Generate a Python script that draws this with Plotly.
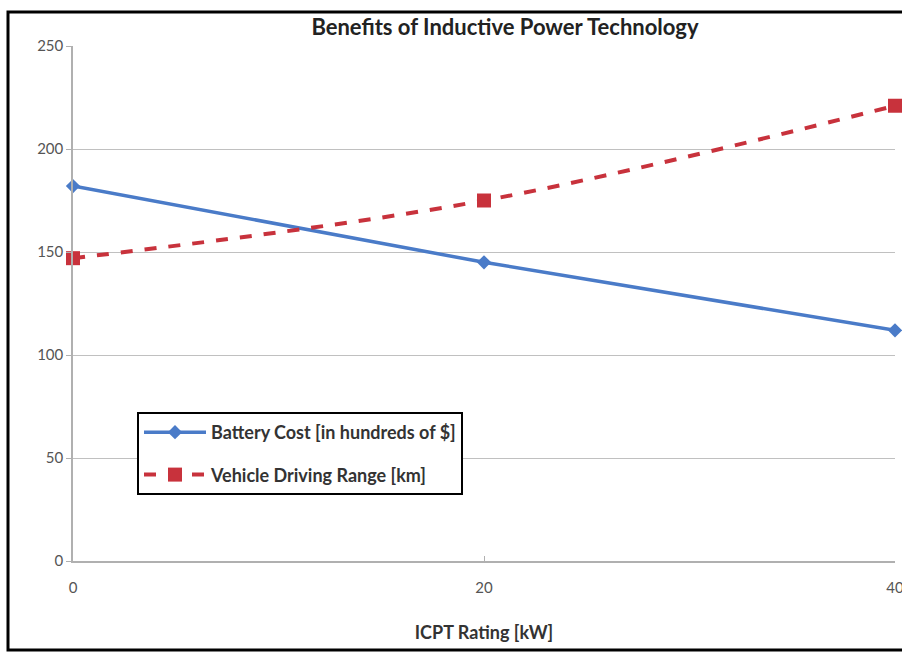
import plotly.graph_objects as go

# data
icpt_kw = [0, 20, 40]
battery_cost = [182, 145, 112]
driving_range = [147, 175, 221]

x_ticks = [0, 20, 40]
y_ticks = [0, 50, 100, 150, 200, 250]

blue = "#4a7bc8"
red = "#c8323c"
font_family = "Lato, Noto Sans, Arial, sans-serif"

fig = go.Figure()

fig.add_trace(
    go.Scatter(
        x=icpt_kw,
        y=battery_cost,
        mode="lines+markers",
        name="Battery Cost [in hundreds of $]",
        legendgroup="a",
        line=dict(color=blue, width=3.5),
        marker=dict(symbol="diamond", size=11, color=blue),
        cliponaxis=False,
    )
)

fig.add_trace(
    go.Scatter(
        x=icpt_kw,
        y=driving_range,
        mode="lines+markers",
        name="Vehicle Driving Range [km]",
        legendgroup="b",
        line=dict(color=red, width=4, dash="dash", shape="spline"),
        marker=dict(symbol="square", size=14, color=red),
        cliponaxis=False,
    )
)

# outer chart frame
fig.add_shape(
    type="rect",
    xref="paper",
    yref="paper",
    x0=(8 - 73) / 822,
    x1=1.1,
    y0=(561 - 650) / 515,
    y1=(561 - 12) / 515,
    line=dict(color="black", width=3),
    layer="below",
)

fig.update_layout(
    width=902,
    height=655,
    margin=dict(l=73, r=7, t=46, b=94, autoexpand=False),
    paper_bgcolor="white",
    plot_bgcolor="white",
    font=dict(family=font_family, color="#555555", size=15),
    title=dict(
        text="<b>Benefits of Inductive Power Technology</b>",
        x=505 / 902,
        xanchor="center",
        y=1 - 27 / 655,
        yanchor="middle",
        font=dict(size=22, color="#222222", family=font_family),
    ),
    xaxis=dict(
        range=[0, 40],
        tickvals=x_ticks,
        automargin=False,
        showgrid=False,
        zeroline=False,
        showline=True,
        linecolor="#b0b0b0",
        linewidth=1.5,
        ticks="inside",
        tickcolor="#b0b0b0",
        ticklen=5,
        ticklabeloverflow="allow",
        ticklabelstandoff=12,
        tickfont=dict(size=15, color="#555555"),
        title=dict(
            text="<b>ICPT Rating [kW]</b>",
            font=dict(size=18, color="#333333"),
            standoff=32,
        ),
    ),
    yaxis=dict(
        range=[0, 250],
        tickvals=y_ticks,
        automargin=False,
        showgrid=True,
        gridcolor="#c0c0c0",
        gridwidth=1,
        zeroline=False,
        showline=True,
        linecolor="#b0b0b0",
        linewidth=1.5,
        ticks="outside",
        tickcolor="#b0b0b0",
        ticklen=5,
        tickfont=dict(size=15, color="#555555"),
    ),
    legend=dict(
        x=(137 - 73) / 822,
        y=(561 - 412) / 515,
        xanchor="left",
        yanchor="top",
        bgcolor="white",
        bordercolor="black",
        borderwidth=2,
        tracegroupgap=16,
        itemwidth=62,
        font=dict(size=18, color="#333333", family=font_family),
    ),
    showlegend=True,
)

fig.for_each_trace(lambda t: t.update(name="<b>" + t.name + "</b>"))

fig.write_html(
    "out.html",
    config={"displayModeBar": False},
    post_script="document.body.style.margin='0';",
)
